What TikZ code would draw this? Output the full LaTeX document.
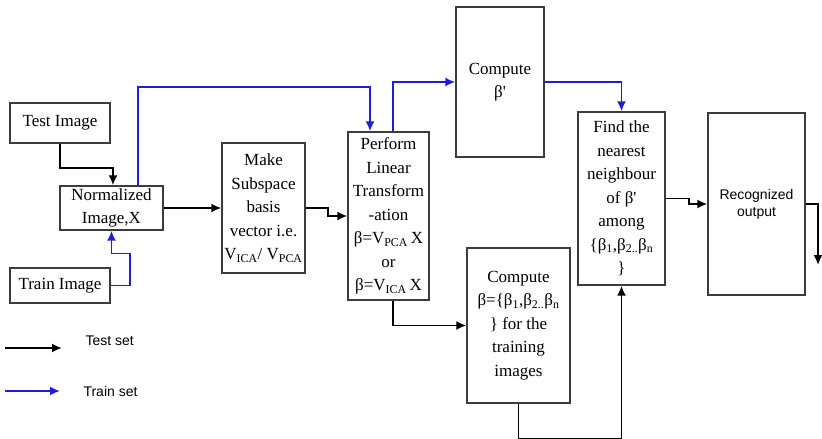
\documentclass[tikz,border=0pt]{standalone}
\usepackage{fontspec}
\setmainfont{Liberation Serif}
\setsansfont{Liberation Sans}
\usetikzlibrary{arrows.meta}
\definecolor{trainblue}{RGB}{30,30,215}
\definecolor{boxgray}{RGB}{60,60,60}
\newcommand{\bp}{β\textquotesingle}
\begin{document}
\begin{tikzpicture}[x=1pt,y=-1pt,
  blk/.style={draw=boxgray, line width=1.4pt, inner sep=0pt, align=center,
    font=\fontsize{17}{23.5}\selectfont},
  sanstxt/.style={font=\sffamily\fontsize{14}{17}\selectfont},
  tarrow/.style={draw=black, line width=1.8pt, -{Latex[length=10pt,width=9pt]}},
  barrow/.style={tarrow, draw=trainblue}
]
\useasboundingbox[fill=white] (0,0) rectangle (822,439);

% boxes
\node[blk, minimum width=100pt, minimum height=40pt] (test) at (60,123) {Test Image};
\node[blk, minimum width=103pt, minimum height=44pt] (norm) at (111.5,208) {Normalized\\Image,X};
\node[blk, minimum width=100pt, minimum height=35pt] (train) at (60,285.5) {Train Image};
\node[blk, minimum width=83pt, minimum height=130pt] (make) at (263.5,208)
  {Make\\Subspace\\basis\\vector i.e.\\V\textsubscript{ICA}/ V\textsubscript{PCA}};
\node[blk, minimum width=81pt, minimum height=168pt] (perform) at (388.5,216)
  {Perform\\Linear\\Transform\\-ation\\β=V\textsubscript{PCA}\,X\\or\\β=V\textsubscript{ICA}\,X};
\node[blk, minimum width=88pt, minimum height=150pt] (computep) at (500,82) {Compute\\\bp};
\node[blk, minimum width=103pt, minimum height=155pt] (computeb) at (518.5,325.5)
  {Compute\\β=\{β\textsubscript{1},β\textsubscript{2..}β\textsubscript{n}\\\} for the\\training\\images};
\node[blk, minimum width=87pt, minimum height=173pt] (find) at (621.5,198.5)
  {Find the\\nearest\\neighbour\\of \bp\\among\\\{β\textsubscript{1},β\textsubscript{2..}β\textsubscript{n}\\\}};
\node[blk, sanstxt, minimum width=97pt, minimum height=182pt] (recog) at (756.5,204) {Recognized\\output};

% connectors
\draw[tarrow] (test.south) -- ++(0,24) -| ([xshift=1.5pt]norm.north);
\draw[barrow] (train.east) -- ++(19,0) -- ++(0,-32) -| (norm.south);
\draw[barrow] ([xshift=26.5pt]norm.north) -- ++(0,-98) -| ([xshift=-18.5pt]perform.north);
\draw[tarrow] (norm.east) -- (make.west);
\draw[tarrow] (make.east) -- ++(22,0) |- (perform.west);
\draw[barrow] ([xshift=4.5pt]perform.north) |- (computep.west);
\draw[barrow] (computep.east) -| (find.north);
\draw[tarrow] ([xshift=4.5pt]perform.south) |- (computeb.west);
\draw[tarrow] (computeb.south) -- ++(0,35) -| (find.south);
\draw[tarrow] (find.east) -- ++(23,0) |- (recog.west);
\coordinate (out) at (818,265);
\draw[tarrow] (recog.east) -| (out);

% legend
\coordinate (ta) at (5,348);
\coordinate (tb) at (62,348);
\draw[tarrow] (ta) -- (tb);
\node[sanstxt, anchor=west] (tl) at (82,341) {Test set};
\coordinate (ba) at (5,391);
\coordinate (bb) at (60,391);
\draw[barrow] (ba) -- (bb);
\node[sanstxt, anchor=west] (bl) at (80,391) {Train set};
\end{tikzpicture}
\end{document}
